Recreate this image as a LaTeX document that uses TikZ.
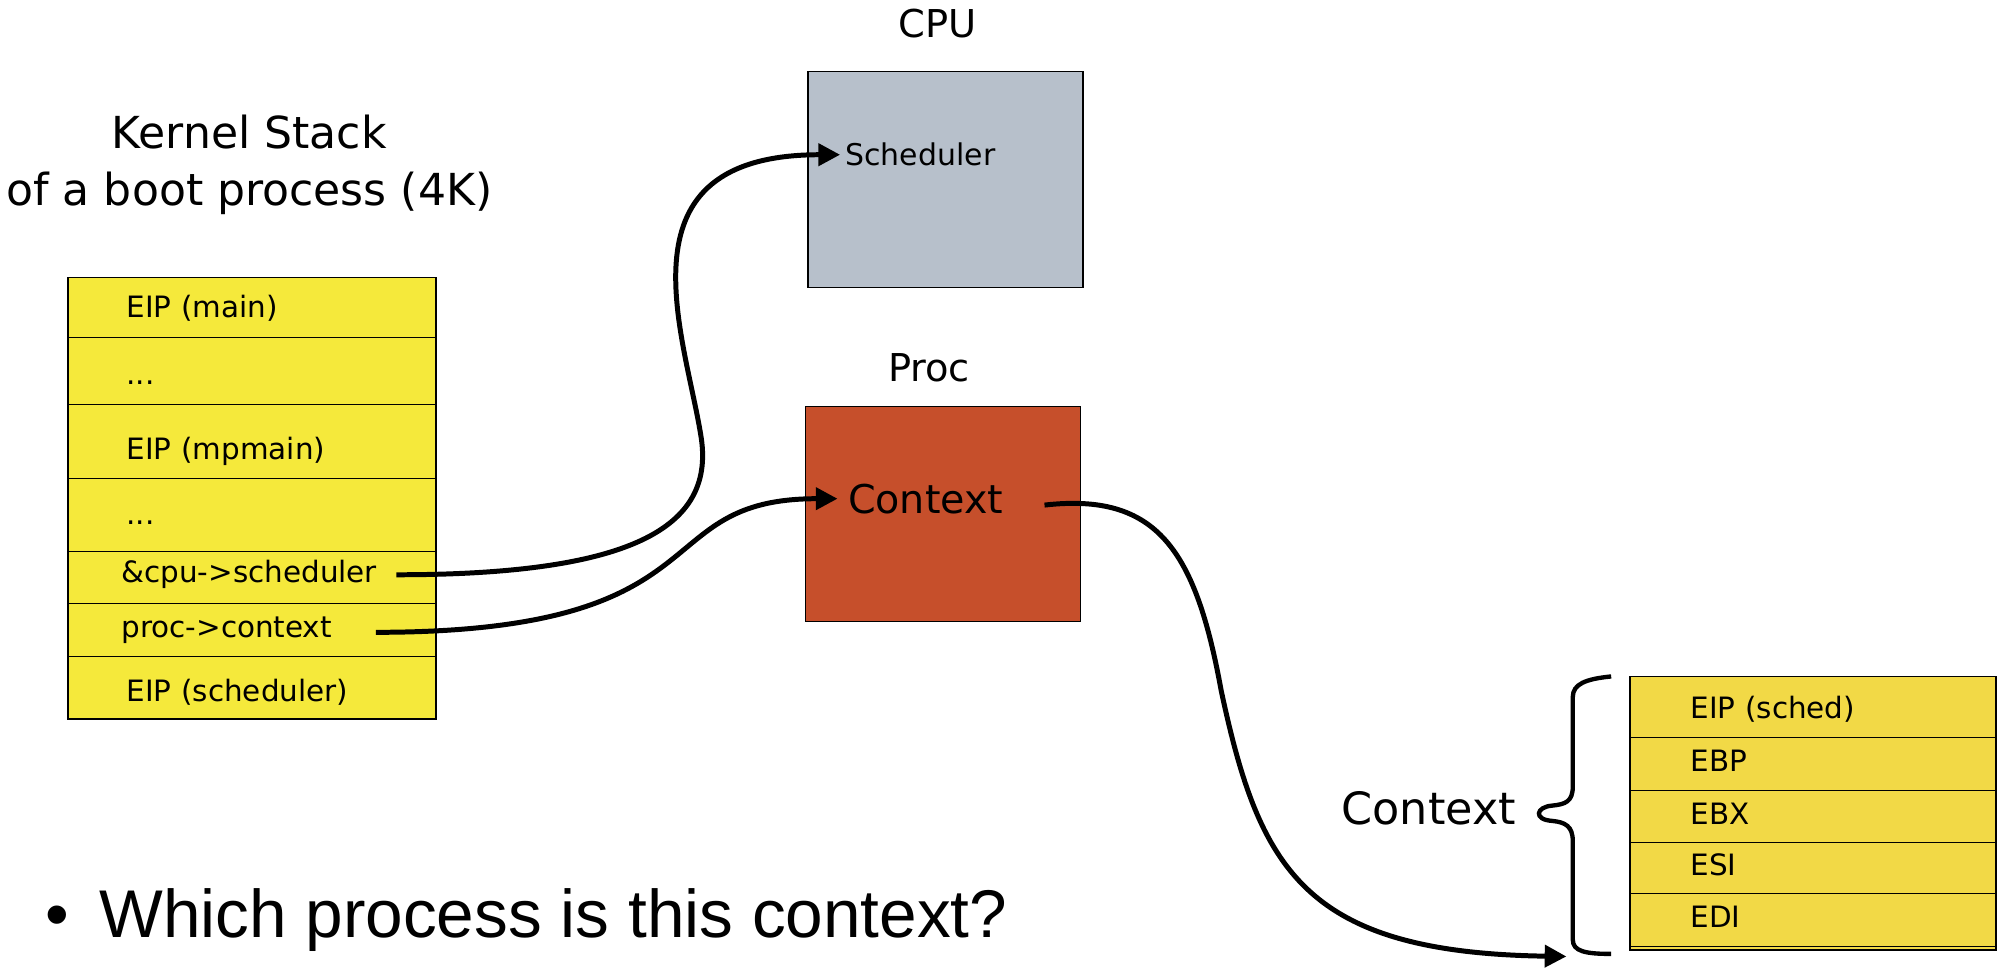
\documentclass[tikz,border=0pt]{standalone}
\usepackage{fontspec}
\setmainfont{DejaVu Sans}
\newfontfamily\bulletfont{Liberation Sans}
\usepackage{tikz}
\usetikzlibrary{arrows.meta,positioning}
\definecolor{kstack}{RGB}{245,233,59}
\definecolor{cstack}{RGB}{242,217,70}
\definecolor{cpugray}{RGB}{183,192,203}
\definecolor{procred}{RGB}{198,79,43}

\begin{document}
\begin{tikzpicture}[x=1pt,y=-1pt,>={Triangle[length=17pt,width=17pt]},
                    node distance=0pt]
  \tikzstyle{stackrow}=[rectangle,draw=black,line width=0.7pt,inner sep=0pt,outer sep=0pt,
                        align=left,text height=17pt,text depth=5pt,font=\fontsize{23}{27}\selectfont]
  \tikzstyle{kernelrow}=[stackrow,fill=kstack,minimum width=288pt,text width=196pt]
  \tikzstyle{ctxrow}=[stackrow,fill=cstack,minimum width=286pt,text width=192pt]
  \tikzstyle{place}=[rectangle,draw=black,line width=1.2pt,minimum width=215pt,minimum height=169pt]
  \tikzstyle{title}=[font=\fontsize{30}{36}\selectfont]
  \tikzstyle{pointer}=[->,line width=3.9pt]

  \useasboundingbox (0,0) rectangle (1568,759);

  % kernel stack of the boot process
  \node[align=center,font=\fontsize{34.5}{44}\selectfont] (kstitle) at (195,129) {Kernel Stack\\of a boot process (4K)};
  \node[kernelrow,minimum height=47pt,text height=21pt,anchor=north west] (rmain) at (53,217) {EIP (main)};
  \node[kernelrow,minimum height=52pt,text height=27pt] (rdotsa) [below=of rmain] {...};
  \node[kernelrow,minimum height=58pt,text height=33pt] (rmp)    [below=of rdotsa] {EIP (mpmain)};
  \node[kernelrow,minimum height=57pt,text height=21pt] (rdotsb) [below=of rmp] {...};
  \node[kernelrow,minimum height=41pt,text height=13pt] (rcpu)   [below=of rdotsb] {\hspace*{-4pt}\&cpu->scheduler};
  \node[kernelrow,minimum height=41pt] (rctx)   [below=of rcpu] {\hspace*{-4pt}proc->context};
  \node[kernelrow,minimum height=49pt,text height=27pt] (rschd)  [below=of rctx] {EIP (scheduler)};
  \draw[line width=1.4pt] (rmain.north west) rectangle (rschd.south east);

  % cpu and proc
  \node[place,fill=cpugray] (cpu) at (739.5,140.5) {};
  \node[title] (cputitle) [above=22pt of cpu,xshift=-6pt] {CPU};
  \node[anchor=west,inner sep=4pt,font=\fontsize{23.4}{28}\selectfont] (sched) at (657,121) {Scheduler};

  \node[place,fill=procred,minimum height=168pt] (proc) at (737.5,402) {};
  \node[title] (proctitle) [above=15pt of proc,xshift=-11pt] {Proc};
  \node[anchor=west,inner sep=8pt,font=\fontsize{31}{37}\selectfont] (ctx) at (655,390) {Context};

  % saved context
  \node[ctxrow,minimum height=48pt,text height=23pt,anchor=north west] (rsch) at (1275,529) {EIP (sched)};
  \node[ctxrow,minimum height=41pt] (rebp) [below=of rsch] {EBP};
  \node[ctxrow,minimum height=41pt] (rebx) [below=of rebp] {EBX};
  \node[ctxrow,minimum height=40pt] (resi) [below=of rebx] {ESI};
  \node[ctxrow,minimum height=41pt] (redi) [below=of resi] {EDI};
  \draw[line width=0.7pt,fill=cstack] (redi.south west) rectangle ([yshift=-3pt]redi.south east);
  \draw[line width=1.4pt] (rsch.north west) rectangle ([yshift=-3pt]redi.south east);

  % brace
  \coordinate (bracetop) at ([xshift=-15pt]rsch.north west);
  \coordinate (bracetip) at ([xshift=-57pt,yshift=-107pt]bracetop);
  \draw[line width=3.4pt,shift={(bracetop)}] (0,0) .. controls (-20,2) and (-30,6) .. (-30,16)
    -- (-30,86) .. controls (-30,98) and (-36,100) .. (-46,101)
    .. controls (-59,102) and (-61,112) .. (-46,113)
    .. controls (-36,114) and (-30,117) .. (-30,129)
    -- (-30,206) .. controls (-30,215) and (-20,217) .. (0,217);
  \node[font=\fontsize{34.8}{40}\selectfont] (ctxlabel) [left=14pt of bracetip,yshift=4pt] {Context};

  % pointers
  \coordinate (cpuptr) at ([xshift=-31pt,yshift=2pt]rcpu.east);
  \coordinate (ctxptr) at ([xshift=-47pt,yshift=-2pt]rctx.east);
  \coordinate (ctxout) at ([xshift=24pt,yshift=-5pt]ctx.east);
  \coordinate (ctxin)  at ([xshift=-50pt,yshift=-8pt]redi.south west);

  \draw[pointer] (cpuptr) .. controls +(190,0) and +(12,70) .. (548,340)
                          .. controls +(-13,-80) and +(-177,0) .. (sched.west);
  \draw[pointer] (ctxptr) .. controls +(277,0) and +(-152,0) .. (ctx.west);
  \draw[pointer] (ctxout) .. controls +(88,-10) and +(-20,-110) .. (955,540)
                          .. controls +(30,140) and +(-205,-3) .. (ctxin);

  \node[anchor=base west,inner sep=0pt,font=\bulletfont\fontsize{52.8}{60}\selectfont] (question) at (35,733)
    {\textbullet\hspace{24pt}Which process is this context?};
\end{tikzpicture}
\end{document}
